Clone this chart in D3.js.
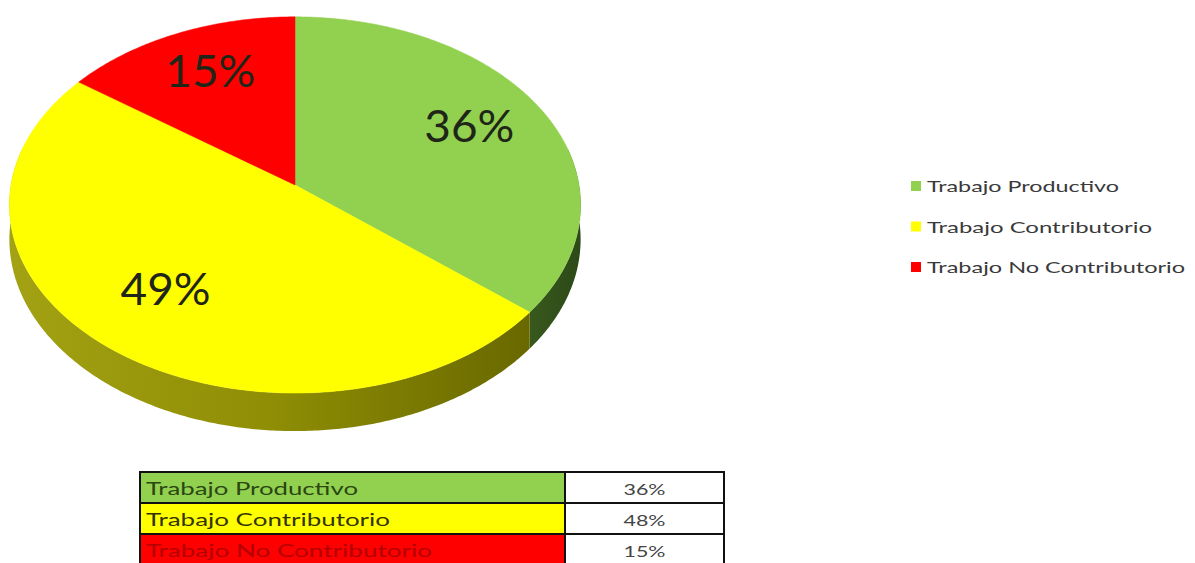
<!DOCTYPE html>
<html><head><meta charset="utf-8">
<script src="https://cdn.jsdelivr.net/npm/d3@7"></script>
<style>body{margin:0;background:#fff}</style></head>
<body><svg id="chart" width="1195" height="563"></svg>
<script>
// Distribution of work types
const categories = ["Trabajo Productivo", "Trabajo Contributorio", "Trabajo No Contributorio"];
const pieValues = [36, 49, 15];
const pieLabels = ["36%", "49%", "15%"];
const tableValues = ["36%", "48%", "15%"];
const colors = ["#92d050", "#ffff00", "#ff0000"];

const svg = d3.select("#chart");
const defs = svg.append("defs");

// Perspective-tilted disc
const cx = 295, cy = 185, R = 284, Ry = 186, k = 0.106, depth = 34;
function proj(a, r, z) {
  const u = Math.sin(a) * r, v = Math.cos(a) * r;
  const s = 1 / (1 + k * v);
  return [cx + R * u * s, cy - Ry * v * s + z * depth * s];
}
function arcPoints(a0, a1, r, z) {
  const n = Math.max(2, Math.ceil(Math.abs(a1 - a0) / 0.01));
  return d3.range(n + 1).map(i => proj(a0 + (a1 - a0) * i / n, r, z));
}

const arcs = d3.pie().sort(null).value(d => d)(pieValues);

// Side wall shading
const wallGrad = [
  ["wallGreen", [["0%", "#4f782a"], ["100%", "#2a4616"]], 430, 590],
  ["wallYellow", [["0%", "#a3a214"], ["50%", "#8e8d04"], ["100%", "#676700"]], 10, 540],
  ["wallRed", [["0%", "#a00000"], ["100%", "#700000"]], 10, 300]
];
wallGrad.forEach(([id, stops, xa, xb]) => {
  const g = defs.append("linearGradient").attr("id", id)
    .attr("gradientUnits", "userSpaceOnUse").attr("x1", xa).attr("x2", xb).attr("y1", 0).attr("y2", 0);
  stops.forEach(([o, c]) => g.append("stop").attr("offset", o).attr("stop-color", c));
});
const wallIds = ["wallGreen", "wallYellow", "wallRed"];

const line = d3.line();
const lo = Math.PI / 2 - 0.2, hi = 3 * Math.PI / 2 + 0.2;
const gWalls = svg.append("g");
arcs.forEach((d, i) => {
  const a0 = Math.max(d.startAngle, lo), a1 = Math.min(d.endAngle, hi);
  if (a1 <= a0) return;
  const pts = arcPoints(a0, a1, 1, 0).concat(arcPoints(a1, a0, 1, 1));
  gWalls.append("path").attr("d", line(pts) + "Z")
    .attr("fill", `url(#${wallIds[i]})`);
});

// Top faces
const gTop = svg.append("g");
arcs.forEach((d, i) => {
  const pts = [[cx, cy]].concat(arcPoints(d.startAngle, d.endAngle, 1, 0));
  gTop.append("path").attr("d", line(pts) + "Z").attr("fill", colors[i])
    .attr("stroke", colors[i]).attr("stroke-width", 0.5);
});

// Percentage labels
arcs.forEach((d, i) => {
  const mid = (d.startAngle + d.endAngle) / 2;
  const [x, y] = proj(mid, 0.7, 0);
  svg.append("text").attr("x", x).attr("y", y - 6)
    .attr("text-anchor", "middle").attr("dominant-baseline", "central")
    .attr("font-family", "Lato, 'Open Sans', sans-serif").attr("font-size", 44)
    .attr("fill", "#1f2618")
    .attr("textLength", 90).attr("lengthAdjust", "spacingAndGlyphs")
    .text(pieLabels[i]);
});

// Legend
const legendLen = [192, 225, 258];
const legend = svg.append("g").attr("transform", "translate(911,186)");
categories.forEach((c, i) => {
  const g = legend.append("g").attr("transform", `translate(0,${i * 40.5})`);
  g.append("rect").attr("x", 0).attr("y", -5).attr("width", 10).attr("height", 10).attr("fill", colors[i]);
  g.append("text").attr("x", 16).attr("y", 0).attr("dominant-baseline", "central")
    .attr("font-family", "Lato, 'Open Sans', sans-serif").attr("font-size", 15)
    .attr("fill", "#3a3a3a")
    .attr("textLength", legendLen[i]).attr("lengthAdjust", "spacingAndGlyphs")
    .text(c);
});

// Data table
const tx0 = 140, tx1 = 565, tx2 = 724, ty0 = 472, rowH = 31;
const tableTextColors = ["#2a4712", "#343400", "#b30000"];
const tableLen = [212, 244, 286];
const table = svg.append("g");
categories.forEach((c, i) => {
  const y = ty0 + i * rowH;
  table.append("rect").attr("x", tx0).attr("y", y).attr("width", tx1 - tx0).attr("height", rowH)
    .attr("fill", colors[i]).attr("stroke", "#111").attr("stroke-width", 2);
  table.append("rect").attr("x", tx1).attr("y", y).attr("width", tx2 - tx1).attr("height", rowH)
    .attr("fill", "#fff").attr("stroke", "#111").attr("stroke-width", 2);
  table.append("text").attr("x", tx0 + 6).attr("y", y + rowH / 2 + 1).attr("dominant-baseline", "central")
    .attr("font-family", "Lato, 'Open Sans', sans-serif").attr("font-size", 17)
    .attr("fill", tableTextColors[i])
    .attr("textLength", tableLen[i]).attr("lengthAdjust", "spacingAndGlyphs")
    .text(c);
  table.append("text").attr("x", (tx1 + tx2) / 2).attr("y", y + rowH / 2 + 1)
    .attr("text-anchor", "middle").attr("dominant-baseline", "central")
    .attr("font-family", "Lato, 'Open Sans', sans-serif").attr("font-size", 16)
    .attr("fill", "#444")
    .attr("textLength", 42).attr("lengthAdjust", "spacingAndGlyphs")
    .text(tableValues[i]);
});
</script>
</body></html>
